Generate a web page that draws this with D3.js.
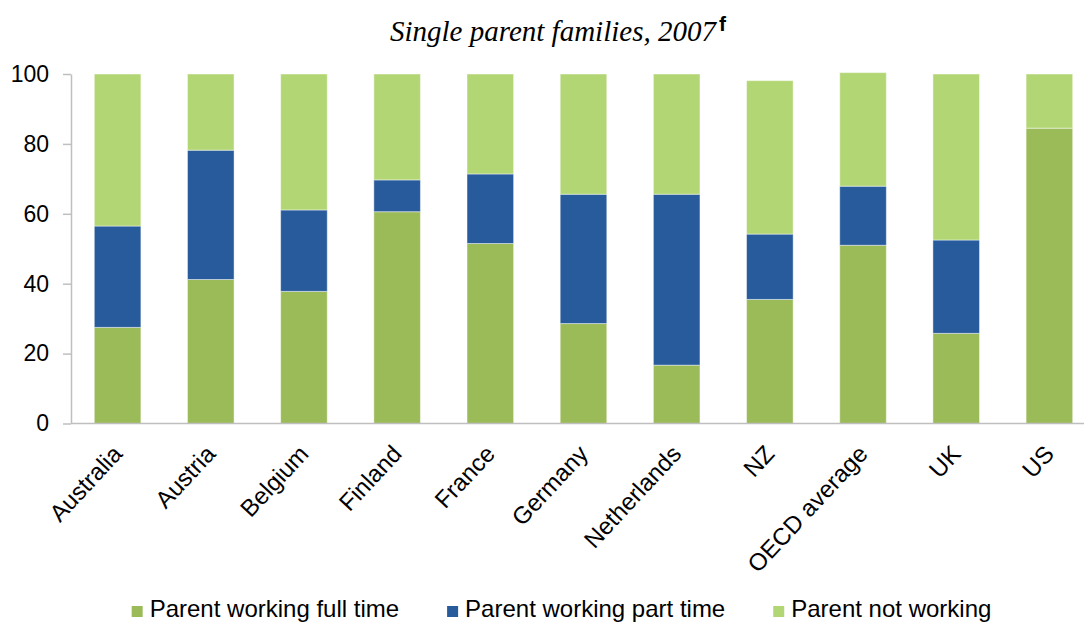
<!DOCTYPE html>
<html>
<head>
<meta charset="utf-8">
<script src="https://cdn.jsdelivr.net/npm/d3@7"></script>
<style>
  html, body { margin: 0; padding: 0; background: #fff; }
  svg { display: block; }
</style>
</head>
<body>
<svg id="chart" width="1084" height="622"></svg>
<script>
// ---- Data ----
const categories = ["Australia", "Austria", "Belgium", "Finland", "France", "Germany", "Netherlands", "NZ", "OECD average", "UK", "US"];
const fullTime    = [27.5, 41.2, 37.8, 60.6, 51.5, 28.6, 16.7, 35.5, 51.0, 25.8, 84.5];
const partTime    = [29.0, 37.0, 23.3,  9.1, 19.9, 37.0, 48.9, 18.7, 16.9, 26.7,  0.0];
const notWorking  = [43.5, 21.8, 38.9, 30.3, 28.6, 34.4, 34.4, 43.9, 32.5, 47.5, 15.5];
const seriesNames = ["Parent working full time", "Parent working part time", "Parent not working"];
const yTicks = [0, 20, 40, 60, 80, 100];
const titleText = "Single parent families, 2007";
const titleNote = "f";

// ---- Build ----
const colors = ["#9BBB59", "#275B9B", "#B3D675"];
const seriesValues = [fullTime, partTime, notWorking];
const rows = categories.map((c, i) => {
  const o = { cat: c };
  seriesNames.forEach((s, k) => o[s] = seriesValues[k][i]);
  return o;
});
const stacked = d3.stack().keys(seriesNames)(rows);

const svg = d3.select("#chart");
const axisX = 71, yTop = 74, yBottom = 423.5;
const step = 93.18;

const x = d3.scaleBand()
  .domain(categories)
  .range([axisX, axisX + step * categories.length])
  .paddingInner(0.5)
  .paddingOuter(0.25);

const y = d3.scaleLinear().domain([0, 100]).range([yBottom, yTop]);

// bars
svg.append("g").selectAll("g")
  .data(stacked)
  .join("g")
  .attr("fill", (d, i) => colors[i])
  .selectAll("rect")
  .data(d => d.map(v => ({ v, cat: v.data.cat })))
  .join("rect")
  .attr("x", d => x(d.cat))
  .attr("width", x.bandwidth())
  .attr("y", d => y(d.v[1]))
  .attr("height", d => Math.max(0, y(d.v[0]) - y(d.v[1])))
  .attr("stroke", "rgba(255,255,255,0.45)")
  .attr("stroke-width", 1);

// y axis
const yAxis = d3.axisLeft(y).tickValues(yTicks).tickSize(8).tickPadding(14).tickSizeOuter(0);
const gy = svg.append("g").attr("transform", `translate(${axisX},0)`).call(yAxis);
gy.select(".domain").attr("stroke", "#BFBFBF").attr("stroke-width", 1.5);
gy.selectAll(".tick line").attr("stroke", "#BFBFBF").attr("stroke-width", 1.5);
gy.selectAll(".tick text")
  .attr("font-family", "Liberation Sans, Arial, sans-serif")
  .attr("font-size", 23)
  .attr("fill", "#000");

// x axis line
svg.append("line")
  .attr("x1", axisX).attr("x2", 1084)
  .attr("y1", y(0)).attr("y2", y(0))
  .attr("stroke", "#BFBFBF").attr("stroke-width", 1.5);

// x labels
svg.append("g").selectAll("text")
  .data(categories)
  .join("text")
  .attr("transform", d => `translate(${x(d) + x.bandwidth() / 2 + 6},${455}) rotate(-47)`)
  .attr("text-anchor", "end")
  .attr("font-family", "Liberation Sans, Arial, sans-serif")
  .attr("font-size", 24)
  .attr("fill", "#000")
  .text(d => d);

// title
const title = svg.append("text")
  .attr("x", 390).attr("y", 41)
  .attr("font-family", "Liberation Serif, Times New Roman, serif")
  .attr("font-style", "italic")
  .attr("font-size", 29)
  .attr("fill", "#000")
  .text(titleText);
const tw = title.node().getComputedTextLength();
svg.append("text")
  .attr("x", 390 + tw + 3).attr("y", 31)
  .attr("font-family", "Liberation Sans, Arial, sans-serif")
  .attr("font-weight", "bold")
  .attr("font-size", 21)
  .attr("fill", "#000")
  .text(titleNote);

// legend
const legend = svg.append("g");
const items = legend.selectAll("g").data(seriesNames).join("g");
items.append("rect").attr("width", 11).attr("height", 11).attr("y", 606)
  .attr("fill", (d, i) => colors[i]);
items.append("text")
  .attr("y", 617)
  .attr("font-family", "Liberation Sans, Arial, sans-serif")
  .attr("font-size", 24)
  .attr("fill", "#000")
  .text(d => d);
const widths = [];
items.each(function () { widths.push(d3.select(this).select("text").node().getComputedTextLength()); });
const itemW = widths.map(w => 11 + 7 + w);
const gap = 48;
const total = d3.sum(itemW) + gap * (itemW.length - 1);
let cx = 561.5 - total / 2;
items.each(function (d, i) {
  const g = d3.select(this);
  g.select("rect").attr("x", cx);
  g.select("text").attr("x", cx + 18);
  cx += itemW[i] + gap;
});
</script>
</body>
</html>
